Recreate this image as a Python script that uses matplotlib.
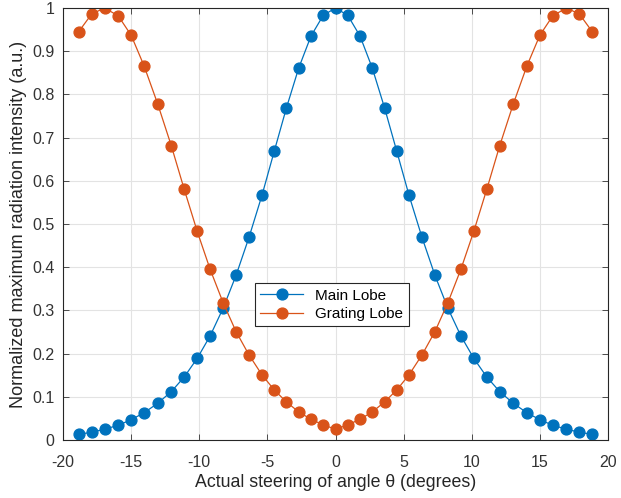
import matplotlib
matplotlib.use('Agg')
from matplotlib import pyplot as plt

plt.rcParams['font.family'] = ['Liberation Sans', 'DejaVu Sans']
plt.rcParams['axes.unicode_minus'] = False

# steering angles (degrees)
angle = [-18.85, -17.9, -16.95, -15.95, -15.0, -14.05, -13.05, -12.05, -11.1, -10.15,
         -9.2, -8.25, -7.3, -6.35, -5.4, -4.5, -3.6, -2.7, -1.8, -0.9, 0.0,
         0.9, 1.8, 2.7, 3.6, 4.5, 5.4, 6.35, 7.3, 8.25, 9.2,
         10.15, 11.1, 12.05, 13.05, 14.05, 15.0, 15.95, 16.95, 17.9, 18.85]

main_lobe = [0.013, 0.018, 0.025, 0.034, 0.047, 0.063, 0.085, 0.112, 0.146, 0.189,
             0.241, 0.305, 0.381, 0.469, 0.566, 0.668, 0.769, 0.861, 0.935, 0.983, 1.0,
             0.983, 0.935, 0.861, 0.769, 0.668, 0.566, 0.469, 0.381, 0.305, 0.241,
             0.189, 0.146, 0.112, 0.085, 0.063, 0.047, 0.034, 0.025, 0.018, 0.013]

grating_lobe = [0.945, 0.986, 1.0, 0.982, 0.937, 0.866, 0.778, 0.681, 0.580, 0.483,
                0.395, 0.318, 0.251, 0.197, 0.151, 0.116, 0.088, 0.065, 0.048, 0.035, 0.025,
                0.035, 0.048, 0.065, 0.088, 0.116, 0.151, 0.197, 0.251, 0.318, 0.395,
                0.483, 0.580, 0.681, 0.778, 0.866, 0.937, 0.982, 1.0, 0.986, 0.945]

fig = plt.figure(figsize=(6.21, 4.98), dpi=100)
ax = fig.add_axes([63 / 621, 1 - 440 / 498, 545 / 621, 432 / 498])

ax.plot(angle, main_lobe, '-o', color='#0072BD', linewidth=0.9, markersize=7.8, label='Main Lobe')
ax.plot(angle, grating_lobe, '-o', color='#D95319', linewidth=0.9, markersize=7.8, label='Grating Lobe')

ax.set_xlim(-20, 20)
ax.set_ylim(0, 1)
ax.set_xticks(range(-20, 21, 5))
ax.set_yticks([i / 10 for i in range(11)])
ax.set_yticklabels(['0', '0.1', '0.2', '0.3', '0.4', '0.5', '0.6', '0.7', '0.8', '0.9', '1'])
ax.grid(True, color='#e3e3e3', linewidth=0.8)
ax.set_axisbelow(True)
ax.tick_params(direction='in', length=4, colors='#333333', labelsize=11.5, top=True, right=True,
               labeltop=False, labelright=False, width=0.6)
ax.tick_params(axis='x', pad=11)
ax.tick_params(axis='y', pad=6)
for s in ax.spines.values():
    s.set_color('#262626')
    s.set_linewidth(0.8)

ax.set_xlabel('Actual steering of angle θ (degrees)', fontsize=12.8, color='#262626', labelpad=3)
ax.set_ylabel('Normalized maximum radiation intensity (a.u.)', fontsize=13, color='#262626', labelpad=4)

leg = ax.legend(loc='upper left', bbox_to_anchor=(0.352, 0.363), borderaxespad=0,
                fancybox=False, edgecolor='#262626', framealpha=1, fontsize=11,
                handlelength=2.8, borderpad=0.35, labelspacing=0.3)
leg.get_frame().set_linewidth(0.8)

fig.savefig('out.png', dpi=100)
